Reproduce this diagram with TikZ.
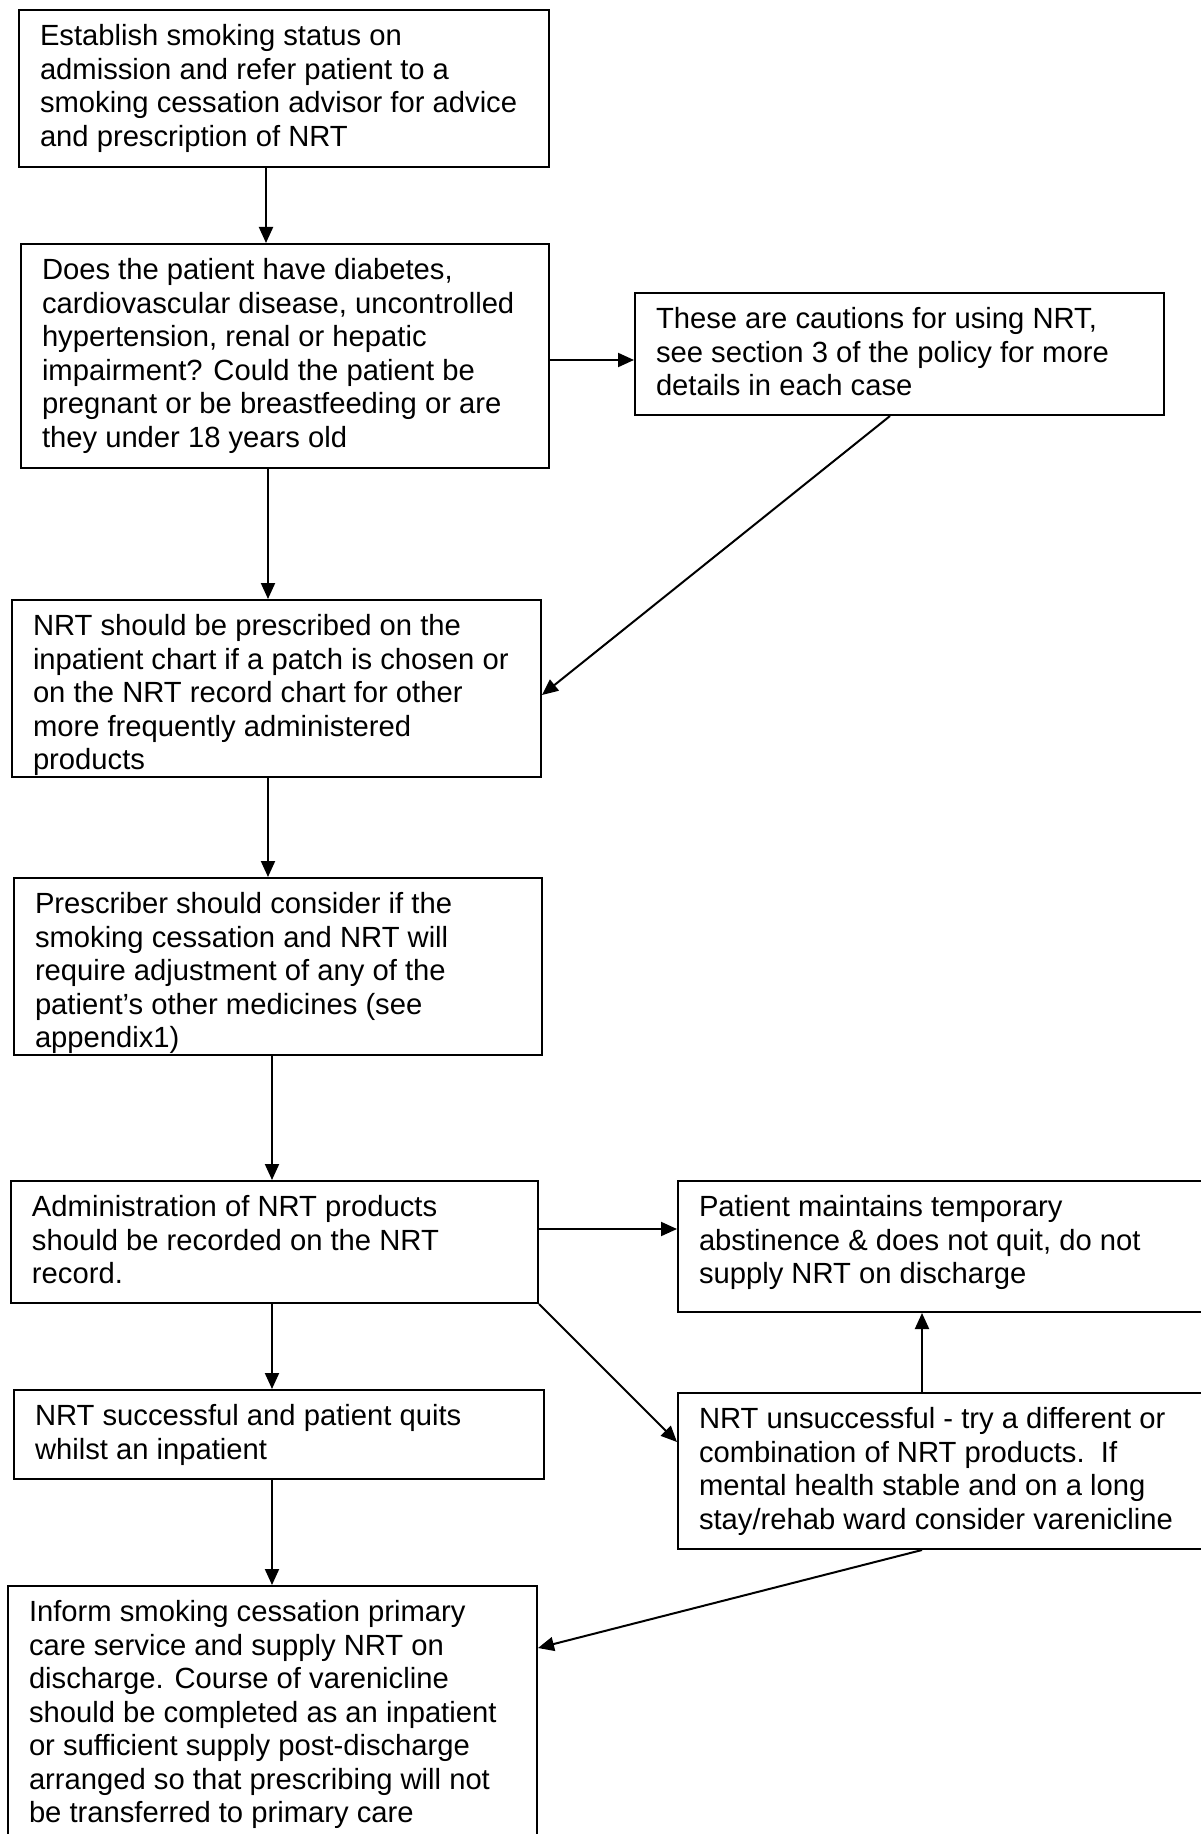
\documentclass[tikz,border=0pt]{standalone}
\usepackage{fontspec}
\setmainfont{Liberation Sans}
\usetikzlibrary{arrows.meta}
\newcommand\fbtext[3]{\parbox[c][\dimexpr #2pt/2\relax][t]{\dimexpr #1pt/2\relax}{\rule{0pt}{17.8pt}#3}}
\begin{document}
\begin{tikzpicture}[x=0.5pt,y=-0.5pt,
  flowbox/.style={draw=black, line width=1pt, anchor=north west, inner xsep=10.5pt, inner ysep=0pt,
    font={\fontsize{14.6pt}{16.75pt}\selectfont}},
  arr/.style={line width=1pt, -{Triangle[length=8pt,width=7pt]}},
  plain/.style={line width=1pt}]
\fill[white] (0,0) rectangle (1200,1834);
\useasboundingbox (0,0) rectangle (1200,1834);

\node[flowbox] (b1) at (18,9) {\fbtext{488}{157}{\mbox{Establish smoking status on}\\\mbox{admission and refer patient to a}\\\mbox{smoking cessation advisor for advice}\\\mbox{and prescription of NRT}}};
\node[flowbox] (b2) at (20,243) {\fbtext{486}{224}{\mbox{Does the patient have diabetes,}\\\mbox{cardiovascular disease, uncontrolled}\\\mbox{hypertension, renal or hepatic}\\\mbox{impairment? Could the patient be}\\\mbox{pregnant or be breastfeeding or are}\\\mbox{they under 18 years old}}};
\node[flowbox] (b3) at (634,292) {\fbtext{487}{122}{\mbox{These are cautions for using NRT,}\\\mbox{see section 3 of the policy for more}\\\mbox{details in each case}}};
\node[flowbox] (b4) at (11,599) {\fbtext{487}{177}{\mbox{NRT should be prescribed on the}\\\mbox{inpatient chart if a patch is chosen or}\\\mbox{on the NRT record chart for other}\\\mbox{more frequently administered}\\\mbox{products}}};
\node[flowbox] (b5) at (13,877) {\fbtext{486}{177}{\mbox{Prescriber should consider if the}\\\mbox{smoking cessation and NRT will}\\\mbox{require adjustment of any of the}\\\mbox{patient’s other medicines (see}\\\mbox{appendix1)}}};
\node[flowbox] (b6) at (10,1180) {\fbtext{485}{122}{\mbox{Administration of NRT products}\\\mbox{should be recorded on the NRT}\\\mbox{record.}}};
\node[flowbox] (b7) at (677,1180) {\fbtext{482}{131}{\mbox{Patient maintains temporary}\\\mbox{abstinence \& does not quit, do not}\\\mbox{supply NRT on discharge}}};
\node[flowbox] (b8) at (13,1389) {\fbtext{488}{89}{\mbox{NRT successful and patient quits}\\\mbox{whilst an inpatient}}};
\node[flowbox] (b9) at (677,1392) {\fbtext{482}{156}{\mbox{NRT unsuccessful - try a different or}\\\mbox{combination of NRT products.\ \ If}\\\mbox{mental health stable and on a long}\\\mbox{stay/rehab ward consider varenicline}}};
\node[flowbox] (b10) at (7,1585) {\fbtext{487}{265}{\mbox{Inform smoking cessation primary}\\\mbox{care service and supply NRT on}\\\mbox{discharge. Course of varenicline}\\\mbox{should be completed as an inpatient}\\\mbox{or sufficient supply post-discharge}\\\mbox{arranged so that prescribing will not}\\\mbox{be transferred to primary care}}};

\coordinate (c1) at (266,0);
\coordinate (c2) at (268,0);
\coordinate (c3) at (272,0);
\coordinate (d1) at (890,0);
\coordinate (d3) at (922,0);
\coordinate (r1) at (0,360);
\coordinate (r2) at (0,1229);
\coordinate (r3) at (0,1442);
\coordinate (r4) at (0,1648);
\coordinate (r5) at (0,695);

\draw[arr] (b1.south -| c1) -- (b2.north -| c1);
\draw[arr] (b2.east |- r1) -- (b3.west |- r1);
\draw[arr] (b2.south -| c2) -- (b4.north -| c2);
\draw[arr] (b3.south -| d1) -- (b4.east |- r5);
\draw[arr] (b4.south -| c2) -- (b5.north -| c2);
\draw[arr] (b5.south -| c3) -- (b6.north -| c3);
\draw[arr] (b6.east |- r2) -- (b7.west |- r2);
\draw[arr] (b6.south east) -- (b9.west |- r3);
\draw[arr] (b6.south -| c3) -- (b8.north -| c3);
\draw[arr] (b9.north -| d3) -- (b7.south -| d3);
\draw[arr] (b8.south -| c3) -- (b10.north -| c3);
\draw[arr] (b9.south -| d3) -- (b10.east |- r4);
\end{tikzpicture}
\end{document}
